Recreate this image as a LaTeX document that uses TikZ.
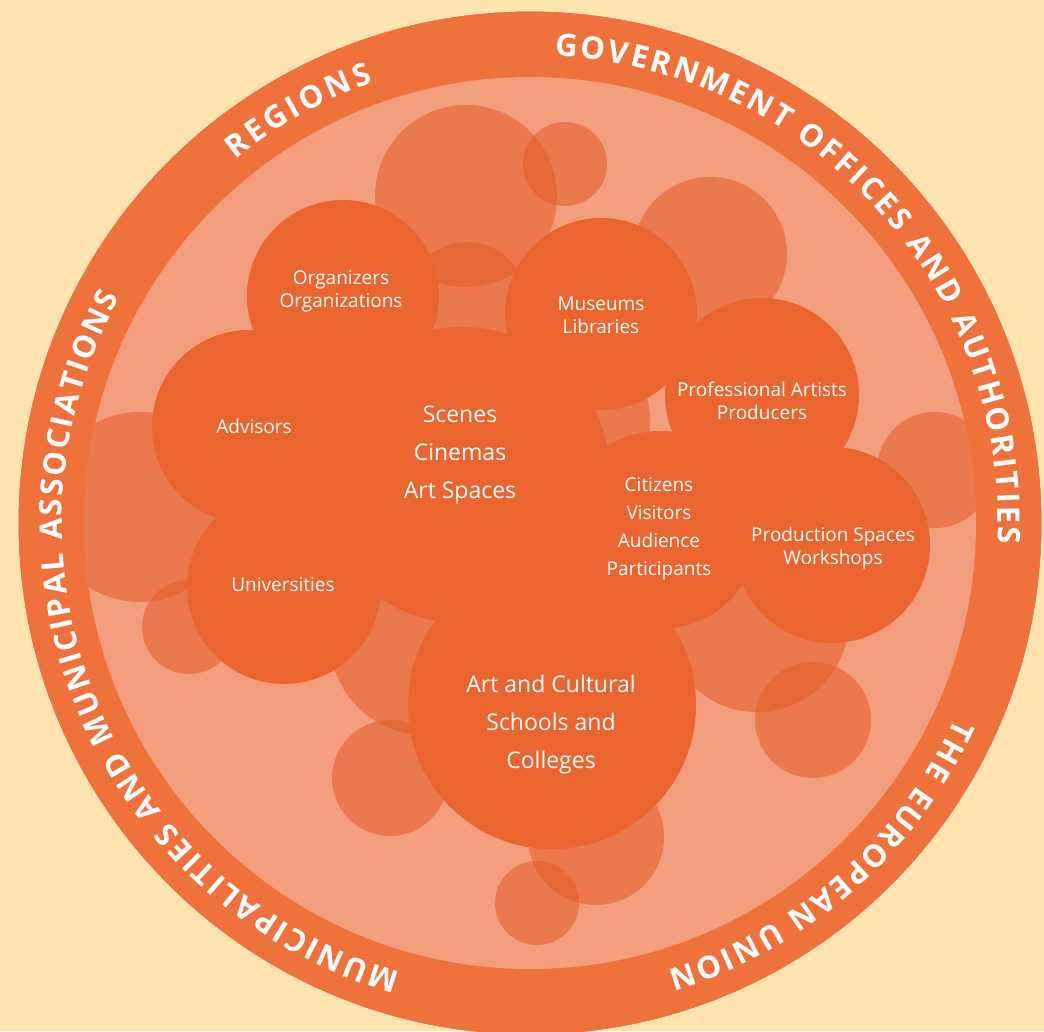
\documentclass[tikz,border=0pt]{standalone}
\usepackage{fontspec}
\setmainfont{Open Sans}
\usetikzlibrary{decorations.text}
\definecolor{bgc}{RGB}{254,227,173}
\definecolor{ringc}{RGB}{239,114,60}
\definecolor{innerc}{RGB}{242,157,124}
\definecolor{bubc}{RGB}{229,92,40}
\definecolor{hubc}{RGB}{235,101,49}
\newcommand{\ringfmt}{\bfseries\fontsize{31}{33}\selectfont}
\tikzset{
  bubble/.style={fill=bubc, fill opacity=0.55},
  hub/.style={circle, fill=hubc, inner sep=0pt},
  lbl/.style={text=white, align=center, font=\fontsize{19}{23}\selectfont},
  midlbl/.style={lbl, font=\fontsize{19}{28}\selectfont},
  biglbl/.style={lbl, font=\fontsize{23}{38}\selectfont}
}

\begin{document}
\begin{tikzpicture}[x=1pt, y=-1pt]
  \useasboundingbox (0,0) rectangle (1044,1031);
  \fill[bgc] (0,0) rectangle (1044,1031);

  \coordinate (ctr) at (530,523);
  \filldraw[fill=ringc, draw=white!70!bgc, line width=0.6pt] (ctr) circle[radius=512pt];
  \fill[innerc] (ctr) circle[radius=446pt];

  % pale bubbles behind, cut to the inner disc
  \begin{scope}
    \clip (ctr) circle[radius=446pt];
    \foreach \x/\y/\r in {466/196/91, 565/164/42, 710/254/77, 935/470/58,
                          140/507/95, 189/627/47, 425/640/95, 390/778/58,
                          596/837/68, 537/903/42, 813/720/58, 757/620/92,
                          467/301/59, 560/420/90}
      \fill[bubble] (\x,\y) circle[radius=\r pt];
  \end{scope}

  % actors
  \node[hub, minimum size=192pt] (orgs) at (343,296) {};
  \node[hub, minimum size=194pt] (advisors) at (249,427) {};
  \node[hub, minimum size=296pt] (scenes) at (462,475) {};
  \node[hub, minimum size=194pt] (unis) at (284,587) {};
  \node[hub, minimum size=288pt] (schools) at (552,705) {};
  \node[hub, minimum size=192pt] (museums) at (601,314) {};
  \node[hub, minimum size=194pt] (artists) at (762,395) {};
  \node[hub, minimum size=198pt] (citizens) at (660,530) {};
  \node[hub, minimum size=196pt] (workshops) at (832,545) {};

  \node[lbl] (orgs-t) at (341,291) {Organizers\\Organizations};
  \node[lbl] (advisors-t) at (254,426) {Advisors};
  \node[biglbl] (scenes-t) at (460,455) {Scenes\\Cinemas\\Art Spaces};
  \node[lbl] (unis-t) at (283,585) {Universities};
  \node[biglbl] (schools-t) at (551,725) {Art and Cultural\\Schools and\\Colleges};
  \node[lbl] (museums-t) at (601,315) {Museums\\Libraries};
  \node[lbl] (artists-t) at (762,401) {Professional Artists\\Producers};
  \node[midlbl] (citizens-t) at (659,529) {Citizens\\Visitors\\Audience\\Participants};
  \node[lbl] (workshops-t) at (833,548) {Production Spaces\\Workshops};

  % ring captions, read clockwise
  \newcommand{\ringtext}[3]{
    \path[decorate, decoration={text along path, text align=fit to path,
          text color=white, text={|\ringfmt|#3}}]
      (ctr) ++(#1:468pt) arc[start angle=#1, end angle=#2, radius=468pt];
  }
  \ringtext{129}{109.6}{REGIONS}
  \ringtext{87}{-2.4}{GOVERNMENT OFFICES AND AUTHORITIES}
  \ringtext{-24.7}{-72.9}{THE EUROPEAN UNION}
  \ringtext{253.9}{151.2}{MUNICIPALITIES AND MUNICIPAL ASSOCIATIONS}
\end{tikzpicture}
\end{document}
